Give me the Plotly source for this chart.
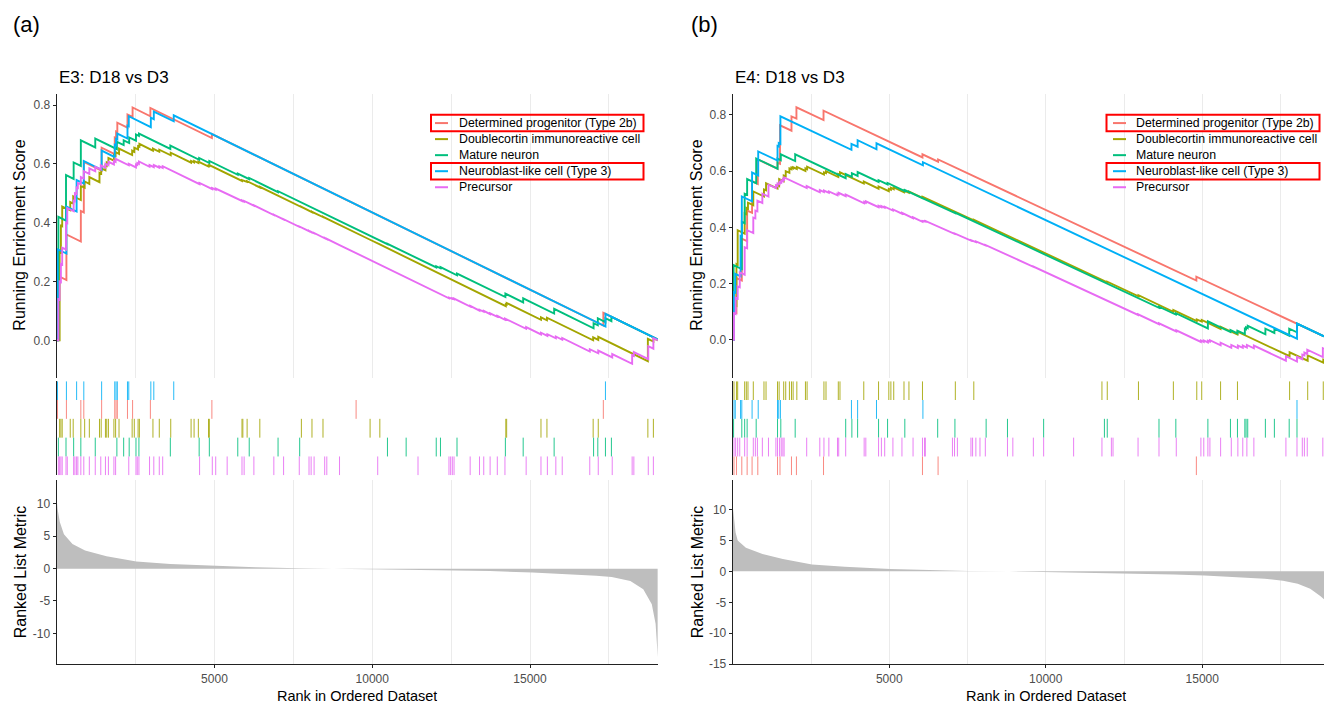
import plotly.graph_objects as go

# ======================= DATA =======================
SET_NAMES = ["Determined progenitor (Type 2b)", "Doublecortin immunoreactive cell",
             "Mature neuron", "Neuroblast-like cell (Type 3)", "Precursor"]
PANEL_LABELS = ["(a)", "(b)"]
PANEL_TITLES = ["E3: D18 vs D3", "E4: D18 vs D3"]
HIGHLIGHTED = [0, 3]
ES_TICKS = [0.0, 0.2, 0.4, 0.6, 0.8]
RANK_TICKS = [5000, 10000, 15000]
A_METRIC_TICKS = [-10, -5, 0, 5, 10]
B_METRIC_TICKS = [-15, -10, -5, 0, 5, 10]

# ---- running enrichment score vertices (rank, ES), panel (a) ----
A_DET_ES = [(0, 0), (27, 0), (27, 0.22), (309, 0.205), (309, 0.36), (766, 0.336), (766, 0.44), (860, 0.435),
            (860, 0.607), (1425, 0.577), (1425, 0.655), (1841, 0.633), (1841, 0.69), (1882, 0.688), (1882, 0.71),
            (1922, 0.708), (1922, 0.74), (2244, 0.723), (2244, 0.768), (2406, 0.76), (2406, 0.792), (2970, 0.762),
            (2970, 0.79), (4919, 0.688), (4919, 0.7015), (9489, 0.4616), (17324, 0.0503), (17324, 0.0935),
            (19050, 0.003)]
A_DCX_ES = [(0, 0), (94, 0), (94, 0.30), (134, 0.298), (134, 0.39), (175, 0.388), (175, 0.455), (430, 0.442),
            (430, 0.47), (524, 0.465), (524, 0.49), (766, 0.477), (766, 0.525), (887, 0.519), (887, 0.54),
            (1035, 0.532), (1035, 0.555), (1357, 0.538), (1357, 0.57), (1411, 0.567), (1411, 0.585), (1546, 0.578),
            (1546, 0.595), (1586, 0.593), (1586, 0.605), (1640, 0.602), (1640, 0.62), (1814, 0.611), (1814, 0.63),
            (1868, 0.627), (1868, 0.64), (1976, 0.634), (1976, 0.652), (2392, 0.63), (2392, 0.645), (2460, 0.641),
            (2460, 0.655), (2580, 0.649), (2580, 0.66), (2621, 0.658), (2621, 0.668), (3051, 0.645), (3051, 0.652),
            (3252, 0.641), (3252, 0.648), (3615, 0.629), (3615, 0.638), (4260, 0.604), (4260, 0.61), (4355, 0.605),
            (4355, 0.61), (4490, 0.603), (4490, 0.608), (4812, 0.591), (4812, 0.594), (4838, 0.593), (4838, 0.596),
            (5873, 0.542), (5873, 0.545), (5900, 0.544), (5900, 0.546), (6035, 0.539), (6035, 0.541), (6438, 0.52),
            (6438, 0.522), (7755, 0.453), (7755, 0.454), (8091, 0.436), (8091, 0.437), (8440, 0.419), (8440, 0.42),
            (9932, 0.342), (10241, 0.326), (14233, 0.116), (14233, 0.122), (14260, 0.121), (14260, 0.127),
            (15348, 0.07), (15348, 0.078), (15537, 0.068), (15537, 0.077), (17002, 0.0), (17002, 0.01),
            (17163, 0.0015), (17163, 0.012), (18735, -0.071), (18735, 0.005), (18910, -0.004), (18910, 0.007),
            (19050, 0.0)]
A_MAT_ES = [(0, 0), (54, 0), (54, 0.42), (296, 0.407), (296, 0.562), (538, 0.549), (538, 0.605), (766, 0.593),
            (766, 0.68), (1223, 0.656), (1223, 0.686), (1908, 0.65), (1908, 0.675), (2123, 0.664), (2123, 0.68),
            (2298, 0.671), (2298, 0.69), (2513, 0.679), (2513, 0.70), (2607, 0.695), (2607, 0.703), (3602, 0.651),
            (3602, 0.662), (4516, 0.614), (4516, 0.62), (4838, 0.603), (4838, 0.61), (5739, 0.563), (5739, 0.567),
            (6102, 0.548), (6102, 0.552), (7016, 0.504), (7016, 0.507), (7701, 0.471), (7701, 0.473),
            (10483, 0.327), (10483, 0.328), (11075, 0.297), (11075, 0.298), (12029, 0.248), (12029, 0.252),
            (12163, 0.245), (12163, 0.249), (12687, 0.221), (12687, 0.227), (14220, 0.147), (14220, 0.159),
            (14784, 0.129), (14784, 0.143), (15765, 0.091), (15765, 0.107), (17015, 0.041), (17015, 0.058),
            (17149, 0.051), (17149, 0.075), (17391, 0.062), (17391, 0.075), (17580, 0.065), (17580, 0.08),
            (19050, 0.003)]
A_NEU_ES = [(0, 0), (27, 0), (27, 0.31), (309, 0.295), (309, 0.455), (632, 0.438), (632, 0.545), (860, 0.533),
            (860, 0.61), (1425, 0.58), (1425, 0.645), (1841, 0.623), (1841, 0.665), (1882, 0.663), (1882, 0.685),
            (1922, 0.683), (1922, 0.703), (2244, 0.686), (2244, 0.73), (2285, 0.728), (2285, 0.762), (2984, 0.725),
            (2984, 0.757), (3078, 0.752), (3078, 0.778), (3710, 0.745), (3710, 0.765), (17391, 0.047),
            (17391, 0.09), (19050, 0.003)]
A_PRE_ES = [(0, 0), (54, 0), (54, 0.14), (94, 0.138), (94, 0.2), (134, 0.198), (134, 0.26), (175, 0.258),
            (175, 0.315), (296, 0.309), (296, 0.40), (336, 0.398), (336, 0.45), (538, 0.439), (538, 0.475),
            (578, 0.473), (578, 0.5), (632, 0.497), (632, 0.52), (672, 0.518), (672, 0.535), (766, 0.53),
            (766, 0.555), (860, 0.55), (860, 0.575), (1035, 0.566), (1035, 0.585), (1223, 0.575), (1223, 0.59),
            (1398, 0.581), (1398, 0.595), (1546, 0.587), (1546, 0.6), (1640, 0.595), (1640, 0.607), (1814, 0.598),
            (1814, 0.61), (1868, 0.607), (1868, 0.617), (2285, 0.595), (2285, 0.6), (2513, 0.588), (2513, 0.598),
            (2554, 0.596), (2554, 0.603), (2607, 0.6), (2607, 0.608), (2943, 0.59), (2943, 0.596), (3078, 0.589),
            (3078, 0.596), (3252, 0.587), (3252, 0.592), (3360, 0.586), (3360, 0.592), (4529, 0.531),
            (4529, 0.535), (4932, 0.514), (4932, 0.518), (5040, 0.512), (5040, 0.516), (5403, 0.497),
            (5403, 0.499), (5873, 0.474), (5873, 0.476), (5941, 0.472), (5941, 0.474), (6250, 0.458),
            (6250, 0.459), (6882, 0.426), (6882, 0.427), (7191, 0.411), (7191, 0.412), (7688, 0.386),
            (7688, 0.387), (7997, 0.371), (7997, 0.372), (8064, 0.368), (8064, 0.369), (8158, 0.364),
            (8158, 0.365), (8494, 0.347), (8494, 0.348), (8561, 0.344), (8561, 0.345), (8964, 0.324),
            (10174, 0.26), (10174, 0.261), (11451, 0.194), (11451, 0.195), (12432, 0.143), (12432, 0.145),
            (12486, 0.142), (12486, 0.144), (12539, 0.141), (12539, 0.143), (12593, 0.14), (12593, 0.142),
            (13104, 0.115), (13104, 0.117), (13400, 0.101), (13400, 0.104), (13534, 0.097), (13534, 0.1),
            (13736, 0.089), (13736, 0.092), (13964, 0.08), (13964, 0.083), (14206, 0.07), (14206, 0.074),
            (14878, 0.039), (14878, 0.045), (15348, 0.02), (15348, 0.026), (15550, 0.015), (15550, 0.021),
            (15819, 0.007), (15819, 0.013), (16021, 0.002), (16021, 0.008), (16894, -0.038), (16894, -0.03),
            (17163, -0.044), (17163, -0.035), (17606, -0.058), (17606, -0.047), (18237, -0.08), (18237, -0.05),
            (18291, -0.053), (18291, -0.04), (18748, -0.064), (18748, -0.02), (18910, -0.0285), (18910, 0.007),
            (19050, 0.0)]

# ---- running enrichment score vertices (rank, ES), panel (b) ----
B_DET_ES = [(0, 0), (39, 0), (39, 0.10), (118, 0.096), (118, 0.22), (289, 0.211), (289, 0.36), (459, 0.351),
            (459, 0.46), (617, 0.452), (617, 0.565), (800, 0.555), (800, 0.642), (1430, 0.609), (1430, 0.63),
            (1509, 0.626), (1509, 0.763), (1876, 0.744), (1876, 0.795), (2034, 0.787), (2034, 0.827),
            (2900, 0.782), (2900, 0.815), (6061, 0.649), (6061, 0.66), (6560, 0.634), (6560, 0.642),
            (14812, 0.211), (14812, 0.225), (18027, 0.056), (18027, 0.058), (18890, 0.0127)]
B_DCX_ES = [(0, 0), (39, 0), (39, 0.125), (118, 0.121), (118, 0.27), (157, 0.268), (157, 0.39), (380, 0.378),
            (380, 0.45), (433, 0.447), (433, 0.47), (486, 0.467), (486, 0.488), (656, 0.479), (656, 0.528),
            (997, 0.51), (997, 0.535), (1063, 0.532), (1063, 0.557), (1430, 0.538), (1430, 0.55), (1482, 0.547),
            (1482, 0.572), (1627, 0.564), (1627, 0.585), (1692, 0.582), (1692, 0.60), (1810, 0.594), (1810, 0.61),
            (1876, 0.607), (1876, 0.613), (1929, 0.61), (1929, 0.614), (2047, 0.608), (2047, 0.615), (2322, 0.601),
            (2322, 0.61), (2375, 0.607), (2375, 0.616), (2913, 0.588), (2913, 0.596), (2979, 0.593), (2979, 0.60),
            (3372, 0.579), (3372, 0.59), (3425, 0.587), (3425, 0.596), (4186, 0.556), (4186, 0.563), (4658, 0.538),
            (4658, 0.546), (4986, 0.529), (4986, 0.537), (5052, 0.534), (5052, 0.541), (5143, 0.536),
            (5143, 0.542), (5471, 0.525), (5471, 0.531), (5629, 0.523), (5629, 0.528), (6061, 0.505),
            (6061, 0.509), (7111, 0.454), (7111, 0.456), (7701, 0.425), (7701, 0.427), (11795, 0.212),
            (11795, 0.214), (11965, 0.205), (11965, 0.207), (12962, 0.155), (12962, 0.159), (14077, 0.1),
            (14077, 0.106), (14825, 0.067), (14825, 0.073), (14983, 0.065), (14983, 0.071), (15586, 0.039),
            (15586, 0.047), (16125, 0.019), (16125, 0.029), (17791, -0.058), (17791, -0.044), (18369, -0.074),
            (18369, -0.055), (18867, -0.081), (18867, -0.07), (18890, -0.071)]
B_MAT_ES = [(0, 0), (26, 0), (26, 0.266), (289, 0.252), (289, 0.42), (380, 0.415), (380, 0.52), (459, 0.516),
            (459, 0.572), (748, 0.557), (748, 0.645), (1430, 0.609), (1430, 0.645), (1535, 0.639), (1535, 0.66),
            (1994, 0.636), (1994, 0.66), (3608, 0.575), (3608, 0.59), (3805, 0.58), (3805, 0.593), (3989, 0.583),
            (3989, 0.597), (4658, 0.562), (4658, 0.568), (4946, 0.553), (4946, 0.558), (5497, 0.529),
            (5497, 0.533), (6547, 0.478), (6547, 0.48), (7098, 0.451), (7098, 0.453), (8095, 0.401),
            (8095, 0.402), (8777, 0.366), (8777, 0.367), (9932, 0.306), (11874, 0.204), (11874, 0.205),
            (11965, 0.2), (11965, 0.201), (13618, 0.114), (13618, 0.118), (14156, 0.09), (14156, 0.095),
            (15180, 0.041), (15180, 0.066), (15901, 0.028), (15901, 0.035), (16125, 0.023), (16125, 0.033),
            (16361, 0.021), (16361, 0.04), (16400, 0.038), (16400, 0.045), (16453, 0.042), (16453, 0.05),
            (17017, 0.02), (17017, 0.04), (17305, 0.025), (17305, 0.04), (17778, 0.015), (17778, 0.04),
            (18027, 0.027), (18027, 0.058), (18890, 0.0127)]
B_NEU_ES = [(0, 0), (39, 0), (39, 0.17), (79, 0.168), (79, 0.235), (249, 0.226), (249, 0.37), (289, 0.368),
            (289, 0.51), (617, 0.493), (617, 0.595), (813, 0.585), (813, 0.67), (1430, 0.638), (1430, 0.69),
            (1469, 0.688), (1469, 0.70), (1522, 0.697), (1522, 0.795), (3792, 0.676), (3792, 0.697),
            (3989, 0.687), (3989, 0.71), (4592, 0.678), (4592, 0.699), (6075, 0.621), (6075, 0.632),
            (18027, 0.0045), (18027, 0.058), (18890, 0.0127)]
B_PRE_ES = [(0, 0), (39, 0), (39, 0.095), (92, 0.092), (92, 0.15), (157, 0.147), (157, 0.19), (223, 0.187),
            (223, 0.24), (380, 0.232), (380, 0.33), (459, 0.326), (459, 0.39), (656, 0.38), (656, 0.435),
            (722, 0.432), (722, 0.46), (787, 0.457), (787, 0.495), (945, 0.487), (945, 0.52), (1141, 0.51),
            (1141, 0.552), (1378, 0.54), (1378, 0.55), (1430, 0.547), (1430, 0.557), (1496, 0.554), (1496, 0.562),
            (1548, 0.559), (1548, 0.567), (1601, 0.564), (1601, 0.572), (1640, 0.57), (1640, 0.578), (2362, 0.54),
            (2362, 0.547), (2781, 0.525), (2781, 0.533), (2913, 0.526), (2913, 0.531), (3070, 0.523),
            (3070, 0.528), (3346, 0.514), (3346, 0.52), (3385, 0.518), (3385, 0.523), (3608, 0.511),
            (3608, 0.517), (4198, 0.486), (4198, 0.491), (4251, 0.488), (4251, 0.493), (4658, 0.472),
            (4658, 0.477), (4749, 0.472), (4749, 0.476), (4854, 0.47), (4854, 0.474), (5117, 0.46), (5117, 0.464),
            (5405, 0.449), (5405, 0.452), (5760, 0.433), (5760, 0.436), (6061, 0.42), (6061, 0.423), (6127, 0.42),
            (6127, 0.422), (6153, 0.421), (6153, 0.423), (7019, 0.378), (7019, 0.38), (7085, 0.377),
            (7085, 0.379), (7177, 0.374), (7177, 0.376), (7610, 0.353), (7610, 0.355), (7662, 0.352),
            (7662, 0.354), (7767, 0.348), (7767, 0.35), (7898, 0.343), (7898, 0.345), (8069, 0.336),
            (8069, 0.338), (8777, 0.301), (8777, 0.302), (8948, 0.293), (8948, 0.294), (9604, 0.26),
            (9604, 0.261), (9932, 0.244), (10890, 0.194), (10890, 0.195), (11795, 0.147), (11795, 0.148),
            (12097, 0.132), (12097, 0.133), (12149, 0.13), (12149, 0.131), (12949, 0.089), (12949, 0.091),
            (13618, 0.056), (13618, 0.059), (14170, 0.03), (14170, 0.034), (14957, -0.007), (14957, -0.002),
            (15049, -0.007), (15049, -0.002), (15180, -0.009), (15180, -0.003), (15245, -0.006), (15245, -0.001),
            (15587, -0.019), (15587, -0.01), (15928, -0.028), (15928, -0.018), (16138, -0.029), (16138, -0.02),
            (16295, -0.028), (16295, -0.02), (16426, -0.027), (16426, -0.018), (16649, -0.03), (16649, -0.02),
            (17673, -0.074), (17673, -0.058), (18027, -0.077), (18027, -0.06), (18197, -0.069), (18197, -0.052),
            (18263, -0.055), (18263, -0.045), (18355, -0.05), (18355, -0.035), (18853, -0.061), (18853, -0.03),
            (18890, -0.032)]

# ---- gene-set member ranks (hit positions) ----
A_DET_HITS = [27, 309, 766, 860, 1425, 1841, 1882, 1922, 2244, 2406, 2970, 4919, 9489, 17324]
A_DCX_HITS = [94, 134, 175, 430, 524, 766, 887, 1035, 1357, 1411, 1546, 1586, 1640, 1814, 1868, 1976, 2392,
              2460, 2580, 2621, 3051, 3252, 3615, 4260, 4355, 4490, 4812, 4838, 5873, 5900, 6035, 6438, 7755,
              8091, 8440, 9932, 10241, 14233, 14260, 15348, 15537, 17002, 17163, 18735, 18910]
A_MAT_HITS = [54, 296, 538, 766, 1223, 1908, 2123, 2298, 2513, 2607, 3602, 4516, 4838, 5739, 6102, 7016, 7701,
              10483, 11075, 12029, 12163, 12687, 14220, 14784, 15765, 17015, 17149, 17391, 17580]
A_NEU_HITS = [27, 309, 632, 860, 1425, 1841, 1882, 1922, 2244, 2285, 2984, 3078, 3710, 17391]
A_PRE_HITS = [54, 94, 134, 175, 296, 336, 538, 578, 632, 672, 766, 860, 1035, 1223, 1398, 1546, 1640, 1814,
              1868, 2285, 2513, 2554, 2607, 2943, 3078, 3252, 3360, 4529, 4932, 5040, 5403, 5873, 5941, 6250,
              6882, 7191, 7688, 7997, 8064, 8158, 8494, 8561, 8964, 10174, 11451, 12432, 12486, 12539, 12593,
              13104, 13400, 13534, 13736, 13964, 14206, 14878, 15348, 15550, 15819, 16021, 16894, 17163, 17606,
              18237, 18291, 18748, 18910]
B_DET_HITS = [39, 118, 289, 459, 617, 800, 1430, 1509, 1876, 2034, 2900, 6061, 6560, 14812]
B_DCX_HITS = [39, 118, 157, 380, 433, 486, 656, 997, 1063, 1430, 1482, 1627, 1692, 1810, 1876, 1929, 2047,
              2322, 2375, 2913, 2979, 3372, 3425, 4186, 4658, 4986, 5052, 5143, 5471, 5629, 6061, 7111, 7701,
              11795, 11965, 12962, 14077, 14825, 14983, 15586, 16125, 17791, 18369, 18867]
B_MAT_HITS = [26, 289, 380, 459, 748, 1430, 1535, 1994, 3608, 3805, 3989, 4658, 4946, 5497, 6547, 7098, 8095,
              8777, 9932, 11874, 11965, 13618, 14156, 15180, 15901, 16125, 16361, 16400, 16453, 17017, 17305,
              17778, 18027]
B_NEU_HITS = [39, 79, 249, 289, 617, 813, 1430, 1469, 1522, 3792, 3989, 4592, 6075, 18027]
B_PRE_HITS = [39, 92, 157, 223, 380, 459, 656, 722, 787, 945, 1141, 1378, 1430, 1496, 1548, 1601, 1640, 2362,
              2781, 2913, 3070, 3346, 3385, 3608, 4198, 4251, 4658, 4749, 4854, 5117, 5405, 5760, 6061, 6127,
              6153, 7019, 7085, 7177, 7610, 7662, 7767, 7898, 8069, 8777, 8948, 9604, 9932, 10890, 11795, 12097,
              12149, 12949, 13618, 14170, 14957, 15049, 15180, 15245, 15587, 15928, 16138, 16295, 16426, 16649,
              17673, 18027, 18197, 18263, 18355, 18853]

# ---- ranked list metric ----
A_METRIC_RANK = [0, 30, 100, 230, 500, 900, 1580, 2525, 3600, 5050, 6300, 7650, 8730, 10040, 11700, 12550,
                 13730, 15080, 16430, 17100, 17590, 18180, 18590, 18860, 18980, 19030, 19050]
A_METRIC_VAL = [10.8, 9.2, 7.2, 5.3, 3.8, 2.8, 1.9, 1.1, 0.7, 0.38, 0.2, 0.07, 0.0, -0.05, -0.15, -0.25, -0.38,
                -0.6, -0.9, -1.1, -1.3, -1.9, -3.2, -5.5, -8.5, -11.5, -13.7]
B_METRIC_RANK = [0, 40, 90, 158, 420, 950, 1600, 2530, 3580, 5030, 6210, 7530, 8840, 10030, 11470, 12550,
                 14100, 15070, 16080, 17000, 17580, 18050, 18450, 18780, 18950]
B_METRIC_VAL = [10.5, 8.0, 6.3, 5.0, 3.8, 2.8, 2.0, 1.1, 0.75, 0.4, 0.2, 0.08, 0.0, -0.1, -0.2, -0.3, -0.5,
                -0.65, -0.9, -1.2, -1.5, -2.0, -2.8, -4.0, -4.8]

# ======================= STYLE / LAYOUT =======================
W, H = 1324, 710
COLORS = ["#F8766D", "#A3A500", "#00BF7D", "#00B0F6", "#E76BF3"]
FONT = "Liberation Sans, Arial, Helvetica, sans-serif"
GRID = "#EBEBEB"
AXIS = "#222222"
TICKC = "#4D4D4D"


def fx(px):
    return px / W


def fy(py):
    return 1 - py / H


PANELS = [
    dict(xpx=(56.7, 657.8), xrange=[1, 19050], es_range=[-0.1279, 0.8374], met_range=[-14.80, 13.77],
         met_ticks=A_METRIC_TICKS, es=[A_DET_ES, A_DCX_ES, A_MAT_ES, A_NEU_ES, A_PRE_ES],
         hits=[A_DET_HITS, A_DCX_HITS, A_MAT_HITS, A_NEU_HITS, A_PRE_HITS], rows=[3, 0, 1, 2, 4],
         metric=(A_METRIC_RANK, A_METRIC_VAL), ax=["", "2", "3"],
         label_x=11, title_x=57, ytitle_x=20, xtitle_x=357,
         leg_key=(435, 448), leg_text=457, leg_box=(431, 643.5)),
    dict(xpx=(732.8, 1324), xrange=[1, 18890], es_range=[-0.1352, 0.8743], met_range=[-15.03, 14.84],
         met_ticks=B_METRIC_TICKS, es=[B_DET_ES, B_DCX_ES, B_MAT_ES, B_NEU_ES, B_PRE_ES],
         hits=[B_DET_HITS, B_DCX_HITS, B_MAT_HITS, B_NEU_HITS, B_PRE_HITS], rows=[1, 3, 2, 4, 0],
         metric=(B_METRIC_RANK, B_METRIC_VAL), ax=["4", "5", "6"],
         label_x=689, title_x=733, ytitle_x=697, xtitle_x=1046,
         leg_key=(1113, 1126), leg_text=1133.5, leg_box=(1106.5, 1319.5)),
]
ES_PX = (95, 381.7)
HIT_PX = (385, 480)
MET_PX = (484.3, 671)
LEG_ROWS = [124.3, 140.5, 156.7, 172.9, 189.1]

fig = go.Figure()
layout = dict(width=W, height=H, margin=dict(l=0, r=0, t=0, b=0), autosize=False,
              paper_bgcolor="white", plot_bgcolor="white", showlegend=False,
              font=dict(family=FONT, color="black"))
annotations, shapes = [], []

for pi, P in enumerate(PANELS):
    a_es, a_hit, a_met = P["ax"]
    xdom = [fx(P["xpx"][0]), fx(P["xpx"][1])]
    # running ES lines
    for k in range(5):
        pts = P["es"][k]
        fig.add_trace(go.Scatter(x=[p[0] for p in pts], y=[p[1] for p in pts], mode="lines",
                                 line=dict(color=COLORS[k], width=1.9), hoverinfo="skip",
                                 xaxis="x" + a_es, yaxis="y" + a_es))
    # hit ticks
    for k in range(5):
        row = P["rows"].index(k)
        lo, hi = 4 - row, 5 - row
        xs, ys = [], []
        for h in P["hits"][k]:
            xs += [h, h, None]
            ys += [lo, hi, None]
        fig.add_trace(go.Scatter(x=xs, y=ys, mode="lines", line=dict(color=COLORS[k], width=1),
                                 opacity=0.85, hoverinfo="skip", xaxis="x" + a_hit, yaxis="y" + a_hit))
    # ranked list metric
    fig.add_trace(go.Scatter(x=P["metric"][0], y=P["metric"][1], mode="lines", fill="tozeroy",
                             fillcolor="#BEBEBE", line=dict(width=0, color="#BEBEBE"), hoverinfo="skip",
                             xaxis="x" + a_met, yaxis="y" + a_met))

    grid_minor = dict(tickmode="linear", tick0=0, dtick=2500, showgrid=True, gridcolor=GRID, gridwidth=1,
                      ticks="")
    tickfont = dict(family=FONT, size=12, color=TICKC)
    # ES axes
    layout["xaxis" + a_es] = dict(domain=xdom, range=P["xrange"], anchor="y" + a_es, tickmode="linear",
                                  tick0=0, dtick=5000, showticklabels=False, ticks="", showline=False,
                                  zeroline=False, showgrid=True, gridcolor=GRID, gridwidth=1, minor=grid_minor)
    layout["yaxis" + a_es] = dict(domain=[fy(ES_PX[1]), fy(ES_PX[0])], range=P["es_range"],
                                  anchor="x" + a_es, tickmode="array", tickvals=ES_TICKS,
                                  ticktext=["%.1f" % v for v in ES_TICKS], ticks="outside", ticklen=3,
                                  tickcolor=AXIS, showline=True, linecolor=AXIS, linewidth=1.2,
                                  showgrid=False, zeroline=False, tickfont=tickfont)
    # hits axes
    layout["xaxis" + a_hit] = dict(domain=xdom, range=P["xrange"], anchor="y" + a_hit, showticklabels=False,
                                   ticks="", showline=False, zeroline=False, showgrid=False)
    layout["yaxis" + a_hit] = dict(domain=[fy(HIT_PX[1]), fy(HIT_PX[0])], range=[0, 5], anchor="x" + a_hit,
                                   showticklabels=False, ticks="", showline=True, linecolor=AXIS,
                                   linewidth=1.2, showgrid=False, zeroline=False)
    # metric axes
    layout["xaxis" + a_met] = dict(domain=xdom, range=P["xrange"], anchor="y" + a_met, tickmode="array",
                                   tickvals=RANK_TICKS, ticktext=[str(v) for v in RANK_TICKS],
                                   ticks="outside", ticklen=3, tickcolor=AXIS, ticklabelstandoff=0,
                                   showline=True, linecolor=AXIS, linewidth=1.2, zeroline=False,
                                   showgrid=True, gridcolor=GRID, gridwidth=1, minor=grid_minor,
                                   tickfont=tickfont)
    layout["yaxis" + a_met] = dict(domain=[fy(MET_PX[1]), fy(MET_PX[0])], range=P["met_range"],
                                   anchor="x" + a_met, tickmode="array", tickvals=P["met_ticks"],
                                   ticktext=[str(v) for v in P["met_ticks"]],
                                   ticks="outside", ticklen=3, tickcolor=AXIS, showline=True, linecolor=AXIS,
                                   linewidth=1.2, showgrid=False, zeroline=False, tickfont=tickfont)

    # texts
    annotations.append(dict(text=PANEL_LABELS[pi], x=fx(P["label_x"]), y=fy(25), xref="paper", yref="paper",
                            xanchor="left", yanchor="middle", showarrow=False,
                            font=dict(family=FONT, size=22, color="black")))
    annotations.append(dict(text=PANEL_TITLES[pi], x=fx(P["title_x"]), y=fy(78), xref="paper", yref="paper",
                            xanchor="left", yanchor="middle", showarrow=False,
                            font=dict(family=FONT, size=17, color="black")))
    annotations.append(dict(text="Running Enrichment Score", x=fx(P["ytitle_x"]), y=fy(238), xref="paper",
                            yref="paper", xanchor="center", yanchor="middle", textangle=-90, showarrow=False,
                            font=dict(family=FONT, size=16, color="black")))
    annotations.append(dict(text="Ranked List Metric", x=fx(P["ytitle_x"]), y=fy(578), xref="paper",
                            yref="paper", xanchor="center", yanchor="middle", textangle=-90, showarrow=False,
                            font=dict(family=FONT, size=16, color="black")))
    annotations.append(dict(text="Rank in Ordered Dataset", x=fx(P["xtitle_x"]), y=0, xref="paper",
                            yref="paper", xanchor="center", yanchor="bottom", valign="middle", height=13,
                            showarrow=False, borderpad=0,
                            font=dict(family=FONT, size=14.5, color="black")))
    # legend
    for k in range(5):
        yy = LEG_ROWS[k]
        shapes.append(dict(type="line", xref="paper", yref="paper", x0=fx(P["leg_key"][0]),
                           x1=fx(P["leg_key"][1]), y0=fy(yy), y1=fy(yy),
                           line=dict(color=COLORS[k], width=2)))
        annotations.append(dict(text=SET_NAMES[k], x=fx(P["leg_text"]), y=fy(yy), xref="paper", yref="paper",
                                xanchor="left", yanchor="middle", showarrow=False,
                                font=dict(family=FONT, size=12.3, color="black")))
    for k in HIGHLIGHTED:
        yy = LEG_ROWS[k]
        shapes.append(dict(type="rect", xref="paper", yref="paper", x0=fx(P["leg_box"][0]),
                           x1=fx(P["leg_box"][1]), y0=fy(yy + 8.3), y1=fy(yy - 8.3),
                           line=dict(color="#FF0000", width=2), fillcolor="rgba(0,0,0,0)"))

layout["annotations"] = annotations
layout["shapes"] = shapes
fig.update_layout(**layout)
fig.write_html("out.html")
